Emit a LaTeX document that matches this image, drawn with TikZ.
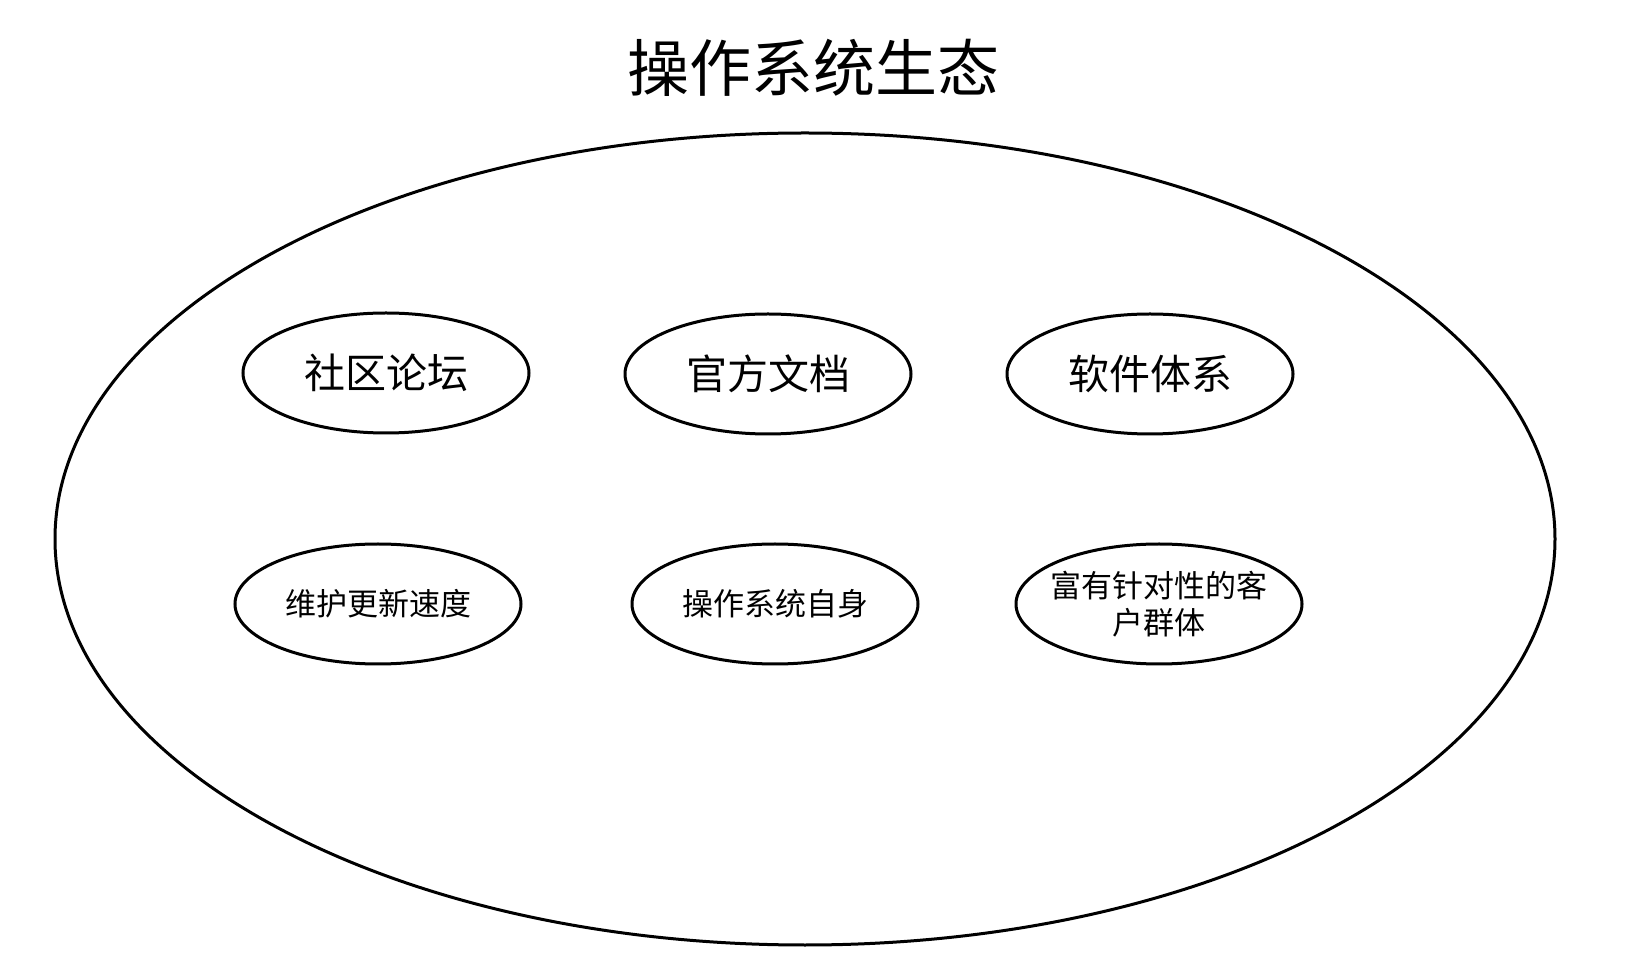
\documentclass[tikz,border=0pt]{standalone}
\usepackage{fontspec}
\setmainfont{Noto Sans CJK SC}
\usetikzlibrary{shapes.geometric}

\begin{document}
\begin{tikzpicture}[x=0.5pt,y=-0.5pt,
  oval/.style={draw,ellipse,line width=1.5pt,minimum width=143pt,minimum height=60pt,inner sep=0pt},
  bigtext/.style={font=\fontsize{20.5pt}{24pt}\selectfont},
  smalltext/.style={font=\fontsize{15.5pt}{18.8pt}\selectfont,align=center}]
\useasboundingbox (0,0) rectangle (1634,972);
\node[draw,ellipse,line width=1.5pt,minimum width=750pt,minimum height=406pt,inner sep=0pt] (eco) at (805,539) {};
\node[font=\fontsize{31pt}{36pt}\selectfont] (title) at (813,68) {操作系统生态};
% first row
\node[oval] (forum) at (386,373) {};
\node[oval] (docs) at (768,374) {};
\node[oval] (soft) at (1150,374) {};
\node[bigtext] (forum-t) at (forum) {社区论坛};
\node[bigtext] (docs-t) at (docs) {官方文档};
\node[bigtext] (soft-t) at (soft) {软件体系};
% second row
\node[oval] (update) at (378,604) {};
\node[oval] (self) at (775,604) {};
\node[oval] (users) at (1159,604) {};
\node[smalltext] (update-t) at (update) {维护更新速度};
\node[smalltext] (self-t) at (self) {操作系统自身};
\node[smalltext] (users-t) at (users) {富有针对性的客\\户群体};
\end{tikzpicture}
\end{document}
